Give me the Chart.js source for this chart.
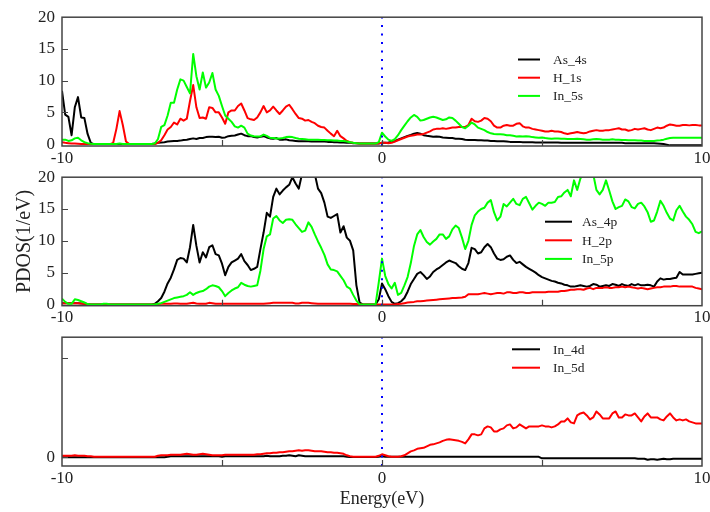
<!DOCTYPE html>
<html lang="en">
<head>
<meta charset="UTF-8">
<title>PDOS</title>
<script src="https://cdn.jsdelivr.net/npm/chart.js"></script>
<style>
  body { margin: 0; background: #fff; }
  #wrap { position: relative; width: 710px; height: 512px; overflow: hidden; background: #fff; }
  #wrap canvas { position: absolute; left: 0; }
  #p1 { top: 0; }
  #p2 { top: 160px; }
  #p3 { top: 320px; }
</style>
</head>
<body>
<div id="wrap">
  <canvas id="p1" width="740" height="172"></canvas>
  <canvas id="p2" width="740" height="172"></canvas>
  <canvas id="p3" width="740" height="192"></canvas>
</div>
<script>
// energy grid (eV), step 0.1
const energy = [
  -10,-9.9,-9.8,-9.7,-9.6,-9.5,-9.4,-9.3,-9.2,-9.1,
  -9,-8.9,-8.8,-8.7,-8.6,-8.5,-8.4,-8.3,-8.2,-8.1,
  -8,-7.9,-7.8,-7.7,-7.6,-7.5,-7.4,-7.3,-7.2,-7.1,
  -7,-6.9,-6.8,-6.7,-6.6,-6.5,-6.4,-6.3,-6.2,-6.1,
  -6,-5.9,-5.8,-5.7,-5.6,-5.5,-5.4,-5.3,-5.2,-5.1,
  -5,-4.9,-4.8,-4.7,-4.6,-4.5,-4.4,-4.3,-4.2,-4.1,
  -4,-3.9,-3.8,-3.7,-3.6,-3.5,-3.4,-3.3,-3.2,-3.1,
  -3,-2.9,-2.8,-2.7,-2.6,-2.5,-2.4,-2.3,-2.2,-2.1,
  -2,-1.9,-1.8,-1.7,-1.6,-1.5,-1.4,-1.3,-1.2,-1.1,
  -1,-0.9,-0.8,-0.7,-0.6,-0.5,-0.4,-0.3,-0.2,-0.1,
  0,0.1,0.2,0.3,0.4,0.5,0.6,0.7,0.8,0.9,
  1,1.1,1.2,1.3,1.4,1.5,1.6,1.7,1.8,1.9,
  2,2.1,2.2,2.3,2.4,2.5,2.6,2.7,2.8,2.9,
  3,3.1,3.2,3.3,3.4,3.5,3.6,3.7,3.8,3.9,
  4,4.1,4.2,4.3,4.4,4.5,4.6,4.7,4.8,4.9,
  5,5.1,5.2,5.3,5.4,5.5,5.6,5.7,5.8,5.9,
  6,6.1,6.2,6.3,6.4,6.5,6.6,6.7,6.8,6.9,
  7,7.1,7.2,7.3,7.4,7.5,7.6,7.7,7.8,7.9,
  8,8.1,8.2,8.3,8.4,8.5,8.6,8.7,8.8,8.9,
  9,9.1,9.2,9.3,9.4,9.5,9.6,9.7,9.8,9.9,
  10
];

// top panel: s states
const as4s = [
  8.4,4.65,4.3,1.4,5.8,7.4,4.2,4.1,1.6,0.2,
  0,0,0,0,0,0,0,0,0,0,
  0,0,0,0,0,0,0,0,0,0.1,
  0.2,0.25,0.3,0.4,0.45,0.5,0.5,0.55,0.65,0.7,
  0.8,0.9,0.8,0.95,0.95,1.1,1.15,1.15,1.1,1.15,
  1.0,1.05,1.25,1.3,1.35,1.5,1.65,1.4,1.25,1.25,
  1.1,1.05,1.15,1.25,1.05,0.9,0.85,0.95,0.7,0.7,
  0.75,0.6,0.55,0.5,0.45,0.45,0.45,0.45,0.4,0.4,
  0.4,0.4,0.4,0.35,0.35,0.3,0.3,0.25,0.25,0.2,
  0.2,0.15,0.15,0.1,0.1,0.1,0.1,0.1,0.1,0.1,
  0.2,0.2,0.25,0.35,0.45,0.7,0.9,1.1,1.3,1.45,
  1.65,1.75,1.65,1.4,1.3,1.25,1.15,1.2,1.15,1.05,
  1.0,0.95,0.95,0.85,0.85,0.8,0.7,0.65,0.65,0.65,
  0.6,0.6,0.55,0.55,0.5,0.5,0.45,0.45,0.45,0.4,
  0.35,0.35,0.35,0.35,0.3,0.3,0.3,0.3,0.25,0.25,
  0.25,0.25,0.25,0.25,0.25,0.25,0.2,0.2,0.2,0.2,
  0.2,0.2,0.2,0.2,0.2,0.2,0.2,0.2,0.2,0.2,
  0.2,0.2,0.2,0.2,0.2,0.2,0.15,0.15,0.15,0.15,
  0.15,0.15,0.15,0.15,0.15,0.15,0.1,0.05,0,-0.1,
  -0.2,-0.2,-0.2,-0.2,-0.2,-0.2,-0.2,-0.2,-0.2,-0.2,
  -0.2
];
const h1s = [
  0.3,0.2,0.15,0.1,0.1,0.05,0,0,0,0,
  0,0,0,0,0,0,0.2,2.4,5.2,3.0,
  0.4,0,0,0,0,0,0,0,0,0,
  0.2,0.6,1.4,2.3,2.7,3.4,3.1,4.0,3.7,4.0,
  6.8,9.3,5.8,4.1,4.2,4.0,5.8,5.7,5.0,5.0,
  4.2,3.2,5.0,5.3,5.3,6.0,6.4,5.3,4.1,3.9,
  3.8,4.2,5.0,6.0,5.0,5.3,5.9,5.3,4.75,5.3,
  5.9,6.2,5.5,4.75,4.1,4.0,3.7,3.8,3.5,3.3,
  2.9,2.7,2.6,2.1,1.65,1.25,2.1,1.25,0.9,0.5,
  0.3,0.2,0.15,0.1,0.1,0.1,0.1,0.1,0.1,0.15,
  0.2,0.2,0.15,0.2,0.4,0.6,0.8,1.0,1.2,1.3,
  1.4,1.5,1.5,1.6,1.8,2.0,2.3,2.4,2.4,2.5,
  2.4,2.5,2.6,2.6,2.7,2.7,2.7,3.0,4.0,3.6,
  3.5,3.7,4.1,4.0,3.6,2.9,2.6,2.6,2.9,3.0,
  2.9,2.9,3.2,3.3,2.8,2.6,2.6,2.4,2.3,2.2,
  2.1,2.0,2.0,2.1,2.0,2.0,1.9,1.7,1.6,1.7,
  1.8,1.9,1.8,1.7,1.8,2.0,2.1,2.2,2.1,2.1,
  2.2,2.2,2.3,2.4,2.5,2.3,2.3,2.1,2.2,2.4,
  2.3,2.4,2.5,2.3,2.2,2.4,2.6,2.5,2.6,2.9,
  3.1,3.0,2.9,2.9,3.0,3.0,2.95,3.0,3.0,2.95,
  2.95
];
const in5s = [
  0.7,0.7,0.5,0.6,0.9,1.0,0.6,0.3,0.15,0.05,
  0,0,0,0,0,0,0,0,0.1,0,
  0,0,0,0,0,0,0,0,0,0.1,
  0.8,2.7,3.0,4.5,6.5,6.5,8.6,10.2,10.0,9.0,
  8.0,14.2,10.7,8.6,11.3,8.9,9.7,11.2,8.6,7.6,
  6.0,4.5,4.0,3.5,2.8,2.6,2.9,2.6,1.65,1.35,
  1.25,1.2,1.2,1.5,1.3,1.0,0.95,0.9,0.9,0.95,
  1.1,1.15,1.1,0.95,0.85,0.8,0.75,0.7,0.7,0.7,
  0.7,0.65,0.65,0.6,0.6,0.55,0.55,0.5,0.5,0.4,
  0.3,0.2,0.15,0.1,0.1,0.1,0.1,0.1,0.1,0.3,
  1.8,1.2,0.7,0.5,0.8,1.4,2.2,2.9,3.6,4.2,
  4.6,4.3,3.7,3.8,4.0,4.2,4.3,4.2,4.0,3.8,
  3.9,4.2,4.1,3.7,3.2,2.7,2.5,2.9,3.4,3.1,
  2.6,2.4,2.2,1.9,1.7,1.6,1.55,1.55,1.5,1.4,
  1.4,1.3,1.2,1.25,1.2,1.25,1.2,1.1,1.05,1.0,
  1.05,0.95,0.9,0.85,0.9,0.9,0.85,0.85,0.8,0.8,
  0.8,0.85,0.8,0.75,0.7,0.7,0.75,0.8,0.75,0.7,
  0.7,0.7,0.75,0.7,0.7,0.65,0.65,0.6,0.6,0.6,
  0.55,0.55,0.5,0.5,0.5,0.5,0.55,0.6,0.7,0.85,
  0.95,1.0,1.0,1.0,1.0,1.0,1.0,1.0,1.0,1.0,
  1.0
];

// middle panel: p states
const as4p = [
  0.2,0.2,0.2,0.2,0.2,0.2,0.15,0.1,0.05,0,
  0,0,0,0,0,0,0,0,0,0,
  0,0,0,0,0,0,0,0,0,0.1,
  0.5,1.0,2.0,3.3,4.2,5.5,7.0,7.3,7.2,6.6,
  9.0,12.5,9.2,6.6,8.2,7.4,9.0,9.3,7.9,7.7,
  6.4,4.6,5.9,6.6,6.9,7.2,7.9,6.8,6.2,5.4,
  5.6,5.9,8.7,11.3,14.4,13.8,16.9,18.2,17.3,17.9,
  18.4,18.8,20.0,19.0,18.2,20.5,21,21,21,20.5,
  18.2,17.5,16.0,13.8,13.6,13.9,14.2,11.3,12.3,10.5,
  10.0,8.5,3.0,0.3,0,0,0,0,0,0.8,
  3.3,2.4,1.3,0.4,0.1,0.2,0.5,1.0,2.0,3.2,
  4.0,4.8,5.1,4.6,4.0,4.4,5.1,5.5,5.8,6.2,
  6.6,6.9,6.7,6.5,6.0,5.6,5.4,6.5,8.9,8.7,
  8.0,8.2,9.0,9.5,9.0,8.0,7.2,7.0,7.1,7.5,
  7.7,7.0,6.5,6.7,6.3,5.9,5.6,5.3,5.0,4.6,
  4.3,4.1,3.9,3.7,3.6,3.4,3.3,3.1,3.0,2.8,
  2.8,2.9,3.0,2.9,2.8,2.9,3.2,3.1,2.8,2.9,
  3.0,2.9,3.2,3.1,2.9,3.2,3.0,2.9,3.2,3.0,
  3.2,3.0,3.0,3.1,3.0,2.8,3.6,4.1,3.9,4.0,
  4.0,4.1,4.2,5.1,4.7,4.7,4.7,4.7,4.8,4.9,
  5.0
];
const h2p = [
  0.2,0.2,0.2,0.2,0.2,0.2,0.15,0.1,0.05,0,
  0,0,0,0,0,0,0,0,0,0,
  0,0,0,0,0,0,0,0,0,0,
  0.05,0.1,0.1,0.1,0.1,0.15,0.15,0.1,0.1,0.1,
  0.2,0.25,0.15,0.1,0.1,0.1,0.25,0.2,0.1,0.1,
  0.1,0.1,0.1,0.1,0.1,0.1,0.1,0.1,0.1,0.1,
  0.1,0.1,0.1,0.1,0.15,0.2,0.25,0.25,0.25,0.25,
  0.25,0.25,0.25,0.15,0.15,0.25,0.25,0.25,0.2,0.15,
  0.1,0.1,0.1,0.1,0.1,0.1,0.1,0.1,0.1,0.1,
  0.1,0.05,0.05,0,0,0,0,0,0,0,
  0,0,0,0,0,0.05,0.1,0.2,0.3,0.35,
  0.4,0.5,0.5,0.55,0.6,0.65,0.7,0.75,0.8,0.85,
  0.9,0.95,1.0,1.0,1.05,1.1,1.2,1.6,1.6,1.6,
  1.6,1.7,1.8,1.7,1.6,1.7,1.8,1.8,1.7,1.9,
  1.9,1.8,1.8,1.9,1.9,1.8,1.8,1.9,1.9,1.9,
  1.9,1.9,2.0,2.0,2.0,2.0,2.1,2.1,2.2,2.3,
  2.3,2.4,2.4,2.3,2.5,2.6,2.4,2.6,2.6,2.6,
  2.7,2.6,2.6,2.7,2.7,2.8,2.7,2.8,2.7,2.6,
  2.5,2.6,2.5,2.4,2.5,2.6,2.7,2.7,2.8,2.8,
  2.8,2.9,2.9,2.8,2.8,2.8,2.8,2.8,2.6,2.5,
  2.4
];
const in5p = [
  0.9,0.4,0.1,0.1,0.8,0.7,0.5,0.3,0.05,0,
  0,0,0,0.1,0.1,0,0,0,0,0,
  0,0,0,0,0,0,0,0,0,0,
  0.1,0.2,0.4,0.6,0.8,1.0,1.1,1.2,1.3,1.5,
  1.9,1.5,1.8,2.0,2.1,2.4,2.8,3.0,2.9,2.7,
  2.1,1.3,1.8,2.2,2.5,2.7,3.4,3.1,2.9,2.8,
  2.9,3.0,5.3,8.7,10.7,11.0,13.5,13.9,13.2,12.8,
  13.3,13.4,13.3,12.6,12.0,11.4,11.6,12.9,12.2,11.0,
  9.9,8.9,7.8,6.3,5.5,5.4,5.2,4.5,3.8,2.8,
  2.5,1.5,0.6,0,0,0,0,0,0,3.5,
  7.2,4.5,3.2,2.5,3.4,1.5,1.8,3.0,4.3,6.5,
  9.2,11.0,11.7,10.6,9.8,9.4,9.9,10.3,11.0,11.0,
  10.3,10.7,11.8,12.4,12.0,10.5,8.7,10.0,12.5,14.0,
  14.6,15.0,15.2,16.0,16.4,14.5,13.2,13.8,15.8,15.4,
  16.0,16.6,15.8,15.6,16.6,16.9,15.9,14.9,15.5,16.0,
  15.8,15.5,16.0,16.0,16.1,16.9,17.0,17.6,18.0,17.0,
  19.5,18.0,19.8,20.5,21,21,20.5,18.0,17.3,18.0,
  19.5,17.9,16.2,15.0,15.3,15.5,16.5,16.2,15.3,15.1,
  15.8,16.0,15.4,14.5,13.0,13.2,14.6,16.3,15.5,14.4,
  13.5,13.2,14.8,15.5,14.6,13.8,13.3,12.6,11.4,11.2,
  11.5
];

// bottom panel: d states
const in4d = [
  0,0,0,0,0,0,0,0,0,0,
  0,0,0,0,0,0,0,0,0,0,
  0,0,0,0,0,0,0,0,0,0,
  0,0,0,0.05,0.1,0.1,0.1,0.1,0.1,0.1,
  0.1,0.1,0.1,0.1,0.1,0.1,0.1,0.1,0.1,0.1,
  0.05,0.1,0.1,0.1,0.1,0.1,0.1,0.1,0.1,0.1,
  0.1,0.1,0.1,0.1,0.15,0.1,0.1,0.1,0.1,0.15,
  0.15,0.2,0.15,0.1,0.2,0.15,0.1,0.1,0.1,0.1,
  0.1,0.1,0.1,0.1,0.1,0.1,0.1,0.1,0.1,0.05,
  0.02,0.02,0.02,0.02,0.02,0.02,0.02,0.02,0.02,0.05,
  0.1,0.05,0.05,0.05,0.05,0.05,0.05,0.05,0.05,0.05,
  0.05,0.05,0.05,0.05,0.05,0.05,0.05,0.05,0.05,0.05,
  0.05,0.05,0.05,0.05,0.05,0.05,0.05,0.05,0.05,0.05,
  0.05,0.05,0.05,0.05,0.05,0.05,0.05,0.05,0.05,0.05,
  0.05,0.05,0.05,0.05,0.05,0.05,0.05,0.05,0.05,0.05,
  -0.1,-0.1,-0.1,-0.1,-0.1,-0.1,-0.1,-0.1,-0.1,-0.1,
  -0.1,-0.1,-0.1,-0.1,-0.1,-0.1,-0.1,-0.1,-0.1,-0.1,
  -0.1,-0.1,-0.1,-0.1,-0.1,-0.1,-0.1,-0.1,-0.1,-0.1,
  -0.15,-0.15,-0.15,-0.25,-0.2,-0.2,-0.25,-0.2,-0.15,-0.2,
  -0.2,-0.15,-0.15,-0.15,-0.15,-0.15,-0.15,-0.15,-0.15,-0.15,
  -0.15
];
const in5d = [
  0.15,0.15,0.15,0.15,0.2,0.15,0.15,0.15,0.1,0.1,
  0.05,0.05,0.05,0.05,0.05,0.05,0.05,0.05,0.05,0.05,
  0.05,0.05,0.05,0.05,0.05,0.05,0.05,0.05,0.05,0.05,
  0.15,0.2,0.2,0.2,0.25,0.25,0.25,0.25,0.3,0.35,
  0.3,0.25,0.25,0.3,0.35,0.3,0.25,0.2,0.2,0.2,
  0.2,0.25,0.25,0.25,0.25,0.25,0.25,0.25,0.25,0.25,
  0.25,0.3,0.3,0.35,0.4,0.4,0.45,0.45,0.5,0.5,
  0.55,0.6,0.6,0.65,0.7,0.65,0.7,0.7,0.65,0.6,
  0.6,0.6,0.55,0.5,0.5,0.45,0.45,0.4,0.35,0.2,
  0.1,0.05,0.05,0.05,0.05,0.05,0.05,0.05,0.05,0.15,
  0.3,0.2,0.1,0.05,0.05,0.05,0.1,0.2,0.4,0.6,
  0.7,0.85,0.9,0.95,1.1,1.25,1.3,1.4,1.5,1.65,
  1.75,1.8,1.75,1.7,1.65,1.55,1.4,1.8,2.3,2.3,
  2.2,2.3,2.9,3.1,3.0,2.6,2.6,2.8,2.9,3.2,
  3.3,2.9,3.0,3.3,3.1,2.9,3.1,3.1,3.1,3.1,
  3.2,3.1,3.1,3.0,3.1,3.3,3.6,3.6,3.9,3.5,
  3.4,4.2,4.4,4.5,4.2,3.8,4.0,4.6,4.3,3.9,
  3.9,3.9,4.4,4.6,4.0,4.0,4.3,4.2,4.2,4.4,
  4.0,3.6,4.1,4.4,4.0,4.0,4.0,3.8,3.7,4.1,
  4.4,4.0,3.7,3.8,3.7,3.8,3.6,3.5,3.4,3.4,
  3.4
];

const xLabelTicks = [-10, 0, 10];
const xMarkTicks = [-5, 0, 5];
const yLabelTicks = [0, 5, 10, 15, 20];
const yMarkTicks = [5, 10, 15];
const yLabelTicksD = [0];
const yMarkTicksD = [0, 10];
const fermiLevel = 0;

const FONT = "'Liberation Serif', 'DejaVu Serif', serif";
Chart.defaults.font.family = FONT;
Chart.defaults.color = '#222';

function pts(arr) {
  return energy.map((e, i) => ({ x: e, y: arr[i] }));
}

function curve(label, arr, color) {
  return { label: label, data: pts(arr), borderColor: color, borderWidth: 2, pointRadius: 0,
           tension: 0, fill: false, clip: 0, borderJoinStyle: 'round' };
}

function fermiLine(yMin, yMax) {
  return { data: [{ x: fermiLevel, y: yMin }, { x: fermiLevel, y: yMax }], borderColor: '#0000ff',
           borderWidth: 2, borderDash: [2, 6.5], pointRadius: 0, fill: false, clip: false };
}

// frame, inward tick marks and legend drawn on top of the data
const framePlugin = {
  id: 'frame',
  afterDatasetsDraw(chart, args, opts) {
    const ctx = chart.ctx;
    const a = chart.chartArea;
    const sx = chart.scales.x, sy = chart.scales.y;
    ctx.save();
    ctx.strokeStyle = '#444';
    ctx.lineWidth = 1.2;
    ctx.beginPath();
    opts.xMarks.forEach(v => {
      const px = Math.round(sx.getPixelForValue(v)) + 0.5;
      ctx.moveTo(px, a.bottom); ctx.lineTo(px, a.bottom - 6);
    });
    opts.yMarks.forEach(v => {
      const py = Math.round(sy.getPixelForValue(v)) + 0.5;
      ctx.moveTo(a.left, py); ctx.lineTo(a.left + 6, py);
    });
    ctx.stroke();
    ctx.lineWidth = 1.5;
    ctx.strokeRect(a.left, a.top, a.right - a.left, a.bottom - a.top);

    const items = chart.data.datasets.filter(d => d.label).reverse();
    const lg = opts.legend;
    ctx.font = '13.5px ' + FONT;
    ctx.textBaseline = 'middle';
    ctx.textAlign = 'left';
    items.forEach((d, i) => {
      const y = lg.y + i * lg.gap;
      ctx.strokeStyle = d.borderColor;
      ctx.lineWidth = 2;
      ctx.beginPath();
      ctx.moveTo(lg.x0, y); ctx.lineTo(lg.x1, y);
      ctx.stroke();
      ctx.fillStyle = '#222';
      ctx.fillText(d.label, lg.tx, y + 1);
    });
    ctx.restore();
  }
};

function makePanel(id, sets, o) {
  return new Chart(document.getElementById(id), {
    type: 'line',
    data: { datasets: [fermiLine(o.yMin, o.yMax)].concat(sets) },
    options: {
      responsive: false,
      animation: false,
      events: [],
      layout: { padding: { top: o.top, right: 38, bottom: 0, left: 0 } },
      plugins: {
        legend: { display: false },
        tooltip: { enabled: false },
        frame: { xMarks: xMarkTicks, yMarks: o.yMarks, legend: o.legend }
      },
      scales: {
        x: {
          type: 'linear', min: -10, max: 10,
          afterBuildTicks: s => { s.ticks = xLabelTicks.map(v => ({ value: v })); },
          afterFit: s => { s.height = o.xHeight; },
          grid: { display: false, drawTicks: false },
          border: { display: false },
          ticks: { padding: 2, font: { size: 17 }, maxRotation: 0, autoSkip: false },
          title: o.xTitle ? { display: true, text: o.xTitle, font: { size: 18 }, padding: { top: 0, bottom: 2 } } : { display: false }
        },
        y: {
          type: 'linear', min: o.yMin, max: o.yMax,
          afterBuildTicks: s => { s.ticks = o.yLabels.map(v => ({ value: v })); },
          afterFit: s => { s.width = 62; },
          grid: { display: false, drawTicks: false },
          border: { display: false },
          ticks: { padding: 7, font: { size: 17 }, autoSkip: false },
          title: o.yTitle ? { display: true, text: o.yTitle, font: { size: 20 }, padding: { top: 13, bottom: 0 } } : { display: false }
        }
      }
    },
    plugins: [framePlugin]
  });
}

makePanel('p1', [curve('In_5s', in5s, '#00ff00'), curve('H_1s', h1s, '#ff0000'), curve('As_4s', as4s, '#000000')], {
  top: 15, xHeight: 26, yMin: -0.3, yMax: 20, yLabels: yLabelTicks, yMarks: yMarkTicks,
  legend: { x0: 518, x1: 540, tx: 553, y: 59.5, gap: 18.2 }
});

makePanel('p2', [curve('In_5p', in5p, '#00ff00'), curve('H_2p', h2p, '#ff0000'), curve('As_4p', as4p, '#000000')], {
  top: 14.3, xHeight: 26.3, yMin: -0.2, yMax: 20, yLabels: yLabelTicks, yMarks: yMarkTicks,
  yTitle: 'PDOS(1/eV)',
  legend: { x0: 545, x1: 572, tx: 582, y: 61.7, gap: 18.6 }
});

makePanel('p3', [curve('In_5d', in5d, '#ff0000'), curve('In_4d', in4d, '#000000')], {
  top: 13.3, xHeight: 46, yMin: -0.87, yMax: 12.04, yLabels: yLabelTicksD, yMarks: yMarkTicksD,
  xTitle: 'Energy(eV)',
  legend: { x0: 512, x1: 540, tx: 553, y: 29.3, gap: 18.4 }
});
</script>
</body>
</html>
